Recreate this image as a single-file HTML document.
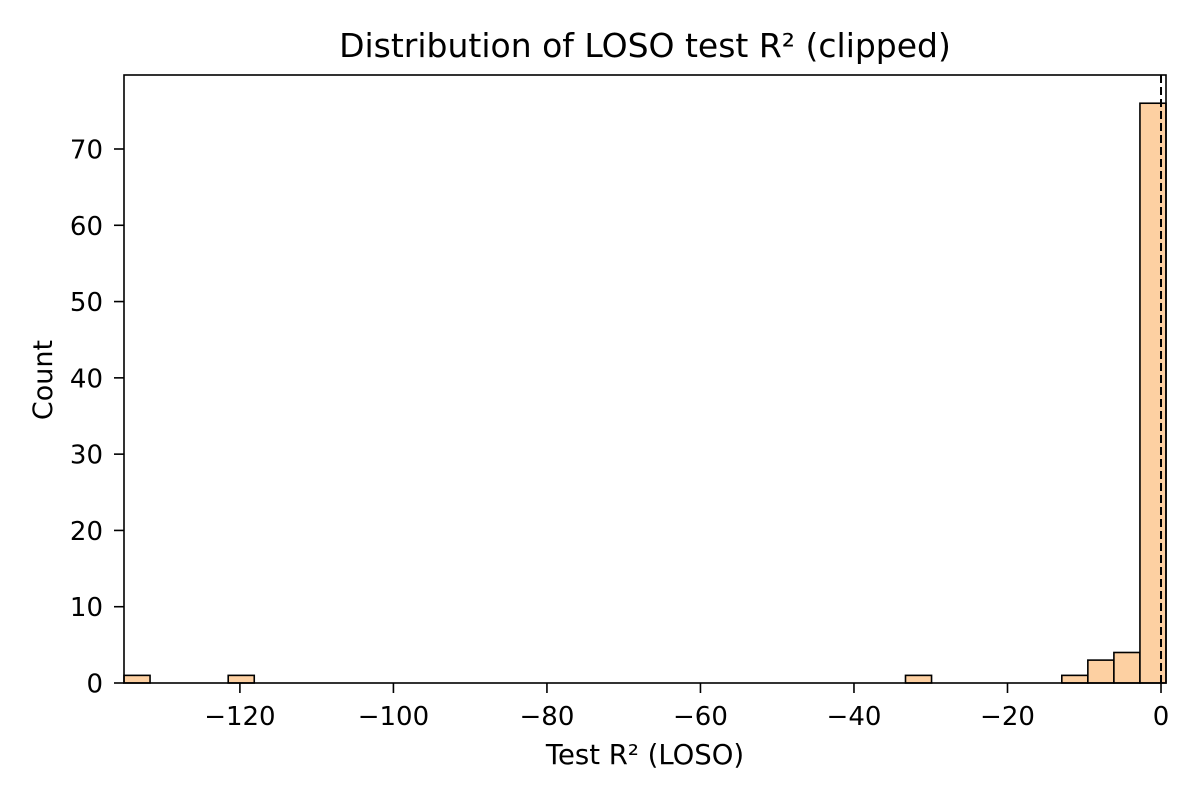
<!DOCTYPE html>
<html><head><meta charset="utf-8"><style>
body{margin:0;background:#fff;}
svg text{font-family:"DejaVu Sans","Liberation Sans",sans-serif;fill:#000;}
</style></head><body>
<svg id="chart" width="1200" height="800" xmlns="http://www.w3.org/2000/svg">
<rect width="1200" height="800" fill="#fff"/>
<text x="645" y="57" font-size="33" text-anchor="middle">Distribution of LOSO test R² (clipped)</text>
<g id="bars"></g>
<g id="xticks"></g>
<g id="yticks"></g>
<line id="zeroline" y1="75" y2="683" stroke="#000" stroke-width="2" stroke-dasharray="8,4"/>
<rect x="124" y="75" width="1042" height="608" fill="none" stroke="#000" stroke-width="1.6"/>
<text x="645" y="764" font-size="27.5" text-anchor="middle">Test R² (LOSO)</text>
<text transform="translate(52,380) rotate(-90)" font-size="27" text-anchor="middle">Count</text>
</svg>
<script>
const xMin = -135.1, xMax = 0.65;
const binCounts = [1,0,0,0,1,0,0,0,0,0,0,0,0,0,0,0,0,0,0,0,0,0,0,0,0,0,0,0,0,0,1,0,0,0,0,0,1,3,4,76];
const xTickValues = [-120,-100,-80,-60,-40,-20,0];
const yTickValues = [0,10,20,30,40,50,60,70];
const yMax = 79.7;
const L=124,R=1166,T=75,B=683;
const sx=v=>L+(v-xMin)/(xMax-xMin)*(R-L);
const sy=v=>B-v/yMax*(B-T);
const NS="http://www.w3.org/2000/svg";
const mk=(t,a,p)=>{const e=document.createElementNS(NS,t);for(const k in a)e.setAttribute(k,a[k]);p.appendChild(e);return e;};
const bw=(xMax-xMin)/binCounts.length;
const gb=document.getElementById('bars');
binCounts.forEach((c,i)=>{
  if(!c)return;
  const x0=sx(xMin+i*bw),x1=sx(xMin+(i+1)*bw);
  const r=mk('rect',{x:x0,y:sy(c),width:x1-x0,height:sy(0)-sy(c),fill:'#fdd0a2',stroke:'#000','stroke-width':1.6},gb);
  
  
});
const gx=document.getElementById('xticks');
xTickValues.forEach(v=>{
  const x=sx(v);
  const l=mk('line',{x1:x,x2:x,y1:B,y2:B+10,stroke:'#000','stroke-width':1.6},gx);
  
  
  const t=mk('text',{x:x,y:B+42,'font-size':26,'text-anchor':'middle'},gx);
  t.textContent=v<0?'\u2212'+(-v):String(v);
  
  
});
const gy=document.getElementById('yticks');
yTickValues.forEach(v=>{
  const y=sy(v);
  const l=mk('line',{x1:L-10,x2:L,y1:y,y2:y,stroke:'#000','stroke-width':1.6},gy);
  
  
  const t=mk('text',{x:L-21,y:y+9.5,'font-size':26,'text-anchor':'end'},gy);
  t.textContent=String(v);
  
  
});
const z=document.getElementById('zeroline');
z.setAttribute('x1',sx(0));z.setAttribute('x2',sx(0));
</script>
</body></html>
